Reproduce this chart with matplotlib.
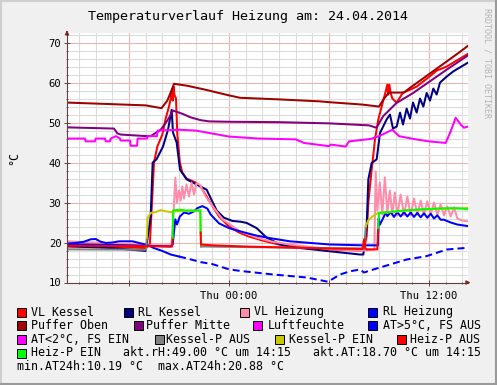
import matplotlib
matplotlib.use('Agg')
import matplotlib.pyplot as plt
from matplotlib.ticker import MultipleLocator, FuncFormatter
from matplotlib.patches import Rectangle
from matplotlib.lines import Line2D

plt.rcParams['font.family'] = 'DejaVu Sans Mono'

# time axis: hours relative to Thu 00:00
T_START = -9.72
T_END = 14.34

# VL Kessel
t_vlk = [-9.72, -7.0, -5.0, -4.75, -4.62, -4.5, -4.3, -4.0, -3.8, -3.6, -3.5, -3.42, -3.38, -3.33, -3.28,
         -3.18, -3.1, -2.95, -2.8, -2.55, -2.0, -1.7, -1.2, -0.6, 0.0, 0.6, 1.2, 2.0, 3.0, 4.5, 6.0, 7.9,
         8.1, 8.26, 8.36, 8.56, 8.76, 8.96, 9.16, 9.4, 9.5, 9.55, 9.62, 9.7, 9.8, 10.06, 10.44, 10.86,
         11.26, 11.66, 12.06, 12.46, 13.06, 13.66, 14.34]
v_vlk = [19.0, 18.9, 18.6, 19.5, 30.0, 40.0, 44.0, 47.0, 51.0, 54.0, 56.0, 58.5, 55.5, 59.0, 57.0,
         56.0, 47.0, 40.0, 37.5, 36.0, 35.0, 34.0, 30.5, 26.5, 24.0, 22.5, 21.5, 20.5, 19.5, 18.8, 18.2, 18.0,
         18.4, 21.6, 30.0, 38.2, 45.8, 50.8, 54.0, 57.8, 59.5, 57.0, 59.5, 57.4, 56.0, 55.0, 57.5, 58.2,
         59.0, 60.3, 61.6, 63.0, 64.0, 65.5, 67.2]

# RL Kessel
t_rlk = [-9.72, -7.0, -5.0, -4.92, -4.7, -4.58, -4.35, -3.96, -3.66, -3.44, -3.36, -3.14, -2.94, -2.54,
         -1.94, -1.34, -0.74, -0.3, 0.2, 0.7, 1.06, 1.66, 2.26, 3.06, 3.66, 6.06, 7.86, 8.06, 8.26, 8.36,
         8.56, 8.86, 9.06, 9.46, 9.66, 9.84, 10.06, 10.26, 10.44, 10.66, 10.86, 11.04, 11.26, 11.46, 11.66,
         11.86, 12.06, 12.26, 12.46, 12.66, 13.06, 13.46, 13.86, 14.34]
v_rlk = [19.1, 18.6, 17.9, 20.0, 26.6, 40.0, 40.8, 44.0, 48.2, 53.2, 47.5, 45.0, 38.2, 35.8,
         34.5, 33.2, 28.0, 26.2, 25.4, 25.2, 24.9, 23.6, 21.2, 19.5, 18.9, 17.8, 17.0, 17.0, 24.1, 35.8,
         39.9, 40.8, 47.4, 50.8, 52.0, 48.5, 49.0, 52.5, 49.5, 53.5, 51.0, 55.0, 52.5, 56.0, 54.0,
         57.4, 55.5, 58.5, 57.0, 60.0, 61.5, 62.8, 63.8, 65.0]

# VL Heizung
t_vlh = [-9.72, -7.0, -5.0, -3.45, -3.32, -3.22, -3.12, -3.0, -2.9, -2.8, -2.7, -2.55, -2.4, -2.25, -2.1,
         -1.95, -1.75, -1.4, -1.14, -0.4, 0.66, 1.68, 2.6, 3.66, 6.06, 8.0, 8.72, 8.8, 8.9, 9.05, 9.2, 9.35,
         9.5, 9.65, 9.8, 9.95, 10.1, 10.3, 10.5, 10.7, 10.9, 11.1, 11.3, 11.5, 11.7, 11.9, 12.1, 12.3, 12.5,
         12.7, 12.9, 13.1, 13.3, 13.5, 13.7, 14.0, 14.34]
v_vlh = [20.3, 19.8, 19.3, 19.3, 28.0, 36.2, 30.0, 33.0, 30.5, 34.0, 31.0, 34.5, 31.5, 35.0, 32.0,
         34.8, 34.5, 31.5, 30.0, 25.8, 22.8, 21.2, 20.2, 19.5, 18.3, 18.0, 18.2, 37.8, 28.0, 35.0, 27.0, 36.3,
         27.5, 33.0, 27.0, 32.5, 26.8, 32.0, 26.8, 31.5, 26.8, 31.0, 27.0, 30.5, 27.0, 30.3, 27.0, 30.0, 27.0,
         29.5, 26.8, 29.0, 26.5, 28.8, 26.0, 25.5, 25.3]

# RL Heizung
t_rlh = [-9.72, -6.0, -3.5, -3.38, -3.22, -3.12, -2.95, -2.7, -2.4, -2.1, -1.9, -1.6, -1.3, -1.1, -0.6,
         0.0, 0.66, 1.68, 2.6, 3.66, 6.06, 8.0, 8.94, 8.98, 9.06, 9.26, 9.4, 9.5, 9.7, 9.9, 10.1, 10.3,
         10.5, 10.7, 10.9, 11.1, 11.3, 11.5, 11.7, 11.9, 12.1, 12.3, 12.5, 12.7, 12.9, 13.3, 13.7, 14.34]
v_rlh = [19.6, 19.3, 19.0, 19.5, 25.8, 24.5, 26.5, 27.5, 27.2, 27.8, 28.6, 29.1, 28.5, 27.0, 24.8,
         23.6, 22.8, 21.7, 21.0, 20.3, 19.5, 19.3, 19.3, 26.0, 24.5, 26.2, 27.5, 26.6, 27.6, 26.4, 27.6, 26.5,
         27.6, 26.5, 27.5, 26.4, 27.4, 26.3, 27.3, 26.2, 27.2, 26.0, 26.8, 25.7, 25.7, 25.0, 24.5, 24.1]

# Puffer Oben
t_po = [-9.72, -7.0, -5.0, -4.05, -3.7, -3.4, -3.3, -2.5, -1.5, 0.0, 0.66, 3.0, 5.46, 6.0, 8.0, 9.0,
        9.3, 9.6, 10.5, 10.8, 11.3, 11.8, 12.3, 12.8, 13.3, 13.8, 14.34]
v_po = [55.0, 54.6, 54.3, 53.6, 55.5, 58.5, 59.7, 59.2, 58.3, 56.8, 56.2, 55.8, 55.3, 55.1, 54.5, 54.0,
        56.0, 57.5, 57.5, 58.5, 60.0, 61.5, 63.0, 64.5, 66.0, 67.5, 69.2]

# Puffer Mitte
t_pm = [-9.72, -6.9, -6.7, -6.5, -4.9, -4.7, -4.1, -3.7, -3.35, -2.8, -2.3, -1.7, -1.2, 0.0, 3.0, 6.0,
        8.4, 8.85, 9.25, 10.05, 11.05, 12.05, 13.05, 14.34]
v_pm = [48.8, 48.5, 47.3, 47.0, 46.6, 46.6, 48.2, 50.5, 53.0, 52.2, 51.3, 50.6, 50.3, 50.2, 50.1, 49.8,
        49.3, 48.7, 51.6, 54.9, 57.4, 60.3, 63.2, 66.8]

# Luftfeuchte
t_lf = [-9.72, -8.64, -8.6, -8.04, -8.0, -7.44, -7.4, -7.14, -7.1, -6.78, -6.54, -6.5, -5.94, -5.9,
        -5.52, -5.48, -4.92, -4.88, -4.32, -4.28, -3.0, -2.0, -1.2, 0.0, 1.8, 4.0, 4.5, 6.0, 6.1, 7.0,
        7.2, 8.5, 9.0, 9.8, 10.2, 11.2, 12.0, 13.0, 13.3, 13.6, 13.9, 14.1, 14.34]
v_lf = [46.0, 46.0, 45.3, 45.3, 46.0, 46.0, 45.3, 45.3, 46.0, 46.6, 46.0, 45.5, 45.5, 44.2,
        44.2, 46.0, 46.0, 46.6, 46.6, 48.0, 48.2, 48.0, 47.4, 46.5, 46.0, 45.8, 44.9, 44.1, 44.5, 44.0,
        45.3, 45.9, 46.6, 48.2, 46.6, 45.8, 45.3, 44.9, 47.8, 51.2, 49.5, 48.7, 49.0]

# Aussentemperatur (AT > 5 °C)
t_at = [-9.72, -9.2, -8.7, -8.3, -8.0, -7.7, -7.4, -7.0, -6.6, -6.2, -5.8, -5.4, -5.0, -4.7, -4.5,
        -4.0, -3.5, -3.0, -2.4, -1.7, -1.0, 0.0, 0.66, 2.66, 4.66, 5.94, 6.66, 7.26, 7.86, 8.1, 8.66,
        9.66, 10.66, 11.86, 13.06, 14.34]
v_at = [19.75, 19.9, 20.2, 20.8, 20.88, 20.2, 19.9, 20.0, 20.3, 20.3, 20.3, 19.9, 19.5, 19.0, 18.6,
        17.9, 17.0, 16.5, 15.9, 15.1, 14.6, 13.3, 12.9, 12.0, 11.25, 10.19, 12.0, 12.8, 13.25, 12.5, 13.25,
        14.5, 15.75, 16.6, 18.25, 18.7]

# Kessel-Pumpe (0 = AUS, 1 = EIN)
t_kp = [-9.72, -4.97, -4.93, -4.88, -4.7, -4.4, -4.1, -3.8, -3.5, -3.3, -1.72, -1.68, 8.1, 8.14, 8.2,
        8.35, 8.6, 8.9, 9.5, 10.5, 11.5, 12.5, 13.5, 14.0, 14.34]
v_kp = [18.3, 18.2, 21.2, 26.2, 27.4, 27.6, 28.1, 27.8, 27.6, 27.8, 28.0, 19.0, 18.5, 18.7, 24.0,
        25.5, 26.5, 27.3, 27.5, 27.9, 28.2, 28.4, 28.5, 28.5, 28.7]
s_kp = [0, 0, 1, 1, 1, 1, 1, 1, 1, 1, 1, 0, 0, 0, 1,
        1, 1, 1, 1, 1, 1, 1, 1, 1, 1]

# Heiz-Pumpe (0 = AUS, 1 = EIN)
t_hp = [-9.72, -5.0, -3.42, -3.38, -3.35, -3.0, -2.5, -2.0, -1.72, -1.70, -1.68, -1.0, 1.0, 3.0, 6.0,
        8.0, 8.12, 8.18, 8.25, 8.35, 8.9, 8.95, 9.0, 9.5, 10.5, 11.5, 12.5, 13.5, 14.0, 14.34]
v_hp = [19.2, 19.1, 19.0, 21.2, 28.0, 28.2, 28.0, 28.0, 28.0, 22.5, 19.5, 19.3, 19.0, 18.8, 18.5,
        18.4, 21.0, 18.5, 18.3, 18.3, 18.3, 23.7, 27.4, 27.6, 28.0, 28.3, 28.5, 28.6, 28.5, 28.3]
s_hp = [0, 0, 0, 1, 1, 1, 1, 1, 1, 0, 0, 0, 0, 0, 0,
        0, 0, 0, 0, 0, 0, 1, 1, 1, 1, 1, 1, 1, 1, 1]

# legend
legend_rows = [
    [("VL Kessel", '#ff0000', 16.7, 30.7), ("RL Kessel", '#000080', 124.0, 138.3),
     ("VL Heizung", '#ff8ca8', 239.7, 254.0), ("RL Heizung", '#0000ff', 368.3, 382.7)],
    [("Puffer Oben", '#a00000', 16.7, 30.7), ("Puffer Mitte", '#800080', 133.7, 145.7),
     ("Luftfeuchte", '#ff00ff', 253.3, 267.3), ("AT>5°C, FS AUS", '#0000ff', 368.3, 382.7)],
    [("AT<2°C, FS EIN", '#ff00ff', 16.7, 30.7), ("Kessel-P AUS", '#808080', 155.0, 165.7),
     ("Kessel-P EIN", '#c8c800', 275.0, 289.3), ("Heiz-P AUS", '#ff0000', 396.7, 410.0)],
    [("Heiz-P EIN", '#00ff00', 16.7, 30.7)],
]
row_y = [312, 325.5, 339.5, 353]
info_texts = [("akt.rH:49.00 °C um 14:15", 122.7, 353), ("akt.AT:18.70 °C um 14:15", 312.7, 353),
              ("min.AT24h:10.19 °C", 16.7, 367), ("max.AT24h:20.88 °C", 158.3, 367)]

W, H = 497, 385


def fx(px):
    return px / W


def fy(py):
    return 1 - py / H


def state_line(ax, t, v, s, colors, lw):
    # draw runs of equal state in one colour each
    start = 0
    for i in range(1, len(t)):
        if i == len(t) - 1 or s[i] != s[start]:
            ax.plot(t[start:i + 1], v[start:i + 1], color=colors[s[start]], lw=lw,
                    solid_joinstyle='miter')
            start = i


fig = plt.figure(figsize=(4.97, 3.85), dpi=100, facecolor='#f0f0f0')
ax = fig.add_axes([fx(67), fy(282.5), fx(468) - fx(67), fy(33) - fy(282.5)])
ax.set_facecolor('white')

LW = 1.45
ax.plot(t_vlk, v_vlk, color='#ff0000', lw=LW)
ax.plot(t_rlk, v_rlk, color='#000080', lw=LW)
ax.plot(t_vlh, v_vlh, color='#ff8ca8', lw=LW)
ax.plot(t_rlh, v_rlh, color='#0000ff', lw=LW)
ax.plot(t_po, v_po, color='#a00000', lw=LW)
ax.plot(t_pm, v_pm, color='#800080', lw=LW)
ax.plot(t_lf, v_lf, color='#ff00ff', lw=LW)
# outdoor temperature: solid at first, gappy afterwards
n_solid = 18
ax.plot(t_at[:n_solid], v_at[:n_solid], color='#0000ff', lw=LW)
ax.plot(t_at[n_solid - 1:], v_at[n_solid - 1:], color='#0000ff', lw=LW, linestyle=(0, (3.5, 2.0)))
state_line(ax, t_kp, v_kp, s_kp, ['#808080', '#c8c800'], LW)
state_line(ax, t_hp, v_hp, s_hp, ['#ff0000', '#00ff00'], LW)

ax.set_xlim(T_START, T_END)
ax.set_ylim(10, 72.4)

ax.xaxis.set_major_locator(MultipleLocator(6))
ax.xaxis.set_minor_locator(MultipleLocator(1))
ax.yaxis.set_major_locator(MultipleLocator(10))
ax.yaxis.set_minor_locator(MultipleLocator(2))
x_names = {0: 'Thu 00:00', 12: 'Thu 12:00'}
ax.xaxis.set_major_formatter(FuncFormatter(lambda x, p: x_names.get(int(round(x)), '')))
ax.yaxis.set_major_formatter(FuncFormatter(lambda y, p: '%d' % y))

ax.set_axisbelow(True)
ax.grid(which='minor', color='#dcdcdc', lw=0.8)
ax.grid(which='major', color='#ebb4b4', lw=0.8)

for side in ['top', 'right']:
    ax.spines[side].set_visible(False)
for side in ['left', 'bottom']:
    ax.spines[side].set_color('#604040')
    ax.spines[side].set_linewidth(0.8)

ax.tick_params(which='major', direction='inout', length=4, width=0.7, color='#604040',
               labelsize=7.6, pad=2)
ax.tick_params(which='minor', direction='inout', length=2, width=0.6, color='#604040')
ax.tick_params(axis='x', which='major', pad=4)

# axis arrows
ax.annotate('', xy=(0, 1.022), xytext=(0, 0.99), xycoords='axes fraction',
            arrowprops=dict(arrowstyle='-|>', color='#8b2020', lw=0.8, mutation_scale=6))
ax.annotate('', xy=(1.013, 0), xytext=(0.99, 0), xycoords='axes fraction',
            arrowprops=dict(arrowstyle='-|>', color='#8b2020', lw=0.8, mutation_scale=6))

fig.text(0.5, fy(16.5), 'Temperaturverlauf Heizung am: 24.04.2014', ha='center', va='center',
         fontsize=9.6)
fig.text(fx(14), fy(158), '°C', rotation=90, ha='center', va='center', fontsize=8.4)
fig.text(fx(487), fy(8), 'RRDTOOL / TOBI OETIKER', rotation=-90, ha='center', va='top',
         fontsize=6.0, color='#b4b4b4')

for r, row in enumerate(legend_rows):
    yc = row_y[r]
    for label, color, sx, tx in row:
        fig.add_artist(Rectangle((fx(sx), fy(yc + 4.5)), 9 / W, 9 / H, transform=fig.transFigure,
                                 facecolor=color, edgecolor='black', lw=0.7))
        fig.text(fx(tx), fy(yc), label, ha='left', va='center', fontsize=8.4)
for label, tx, yc in info_texts:
    fig.text(fx(tx), fy(yc), label, ha='left', va='center', fontsize=8.4)

# image frame
fig.add_artist(Line2D([0, 1], [fy(1), fy(1)], transform=fig.transFigure, color='#cfcfcf', lw=1.5))
fig.add_artist(Line2D([fx(1), fx(1)], [0, 1], transform=fig.transFigure, color='#cfcfcf', lw=1.5))
fig.add_artist(Line2D([0, 1], [fy(384), fy(384)], transform=fig.transFigure, color='#9a9a9a', lw=1.5))
fig.add_artist(Line2D([fx(496), fx(496)], [0, 1], transform=fig.transFigure, color='#9a9a9a', lw=1.5))

fig.savefig('out.png', dpi=100, facecolor=fig.get_facecolor())
